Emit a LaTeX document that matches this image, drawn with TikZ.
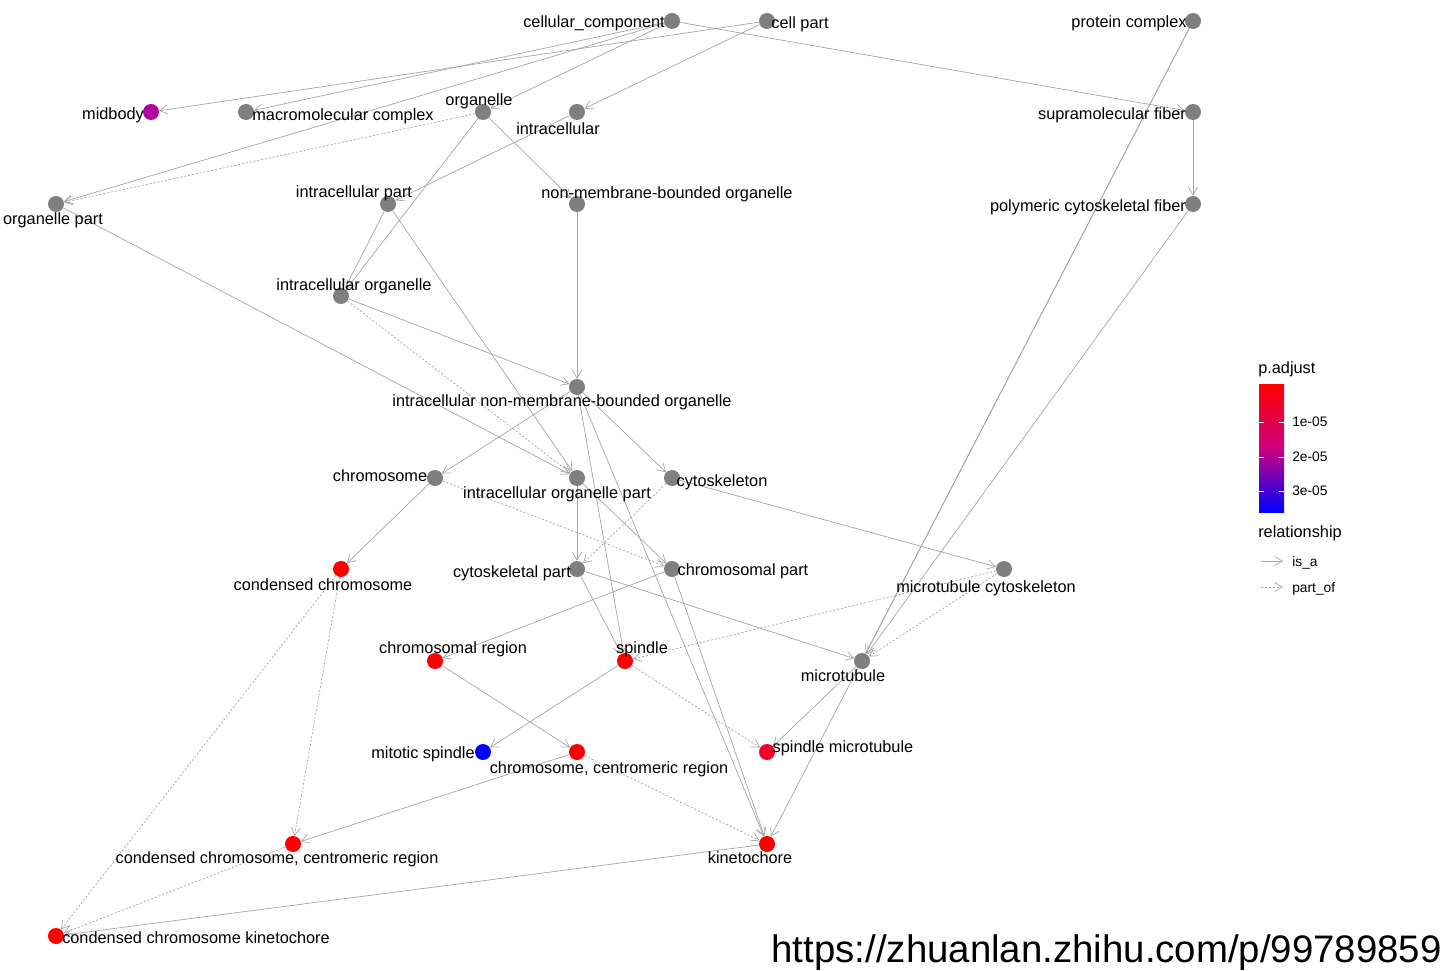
\documentclass[tikz,border=0pt]{standalone}
\usepackage{fontspec}
\setmainfont{Liberation Sans}
\usetikzlibrary{arrows.meta,positioning}
\definecolor{edgegray}{HTML}{A6A6A6}
\definecolor{termgray}{HTML}{7F7F7F}
\definecolor{sigred}{HTML}{FF0000}
\definecolor{midmag}{HTML}{B300A3}
\definecolor{sigblue}{HTML}{0000FF}
\definecolor{spmtred}{HTML}{F2002B}
\pgfdeclarelayer{edges}
\pgfsetlayers{edges,main}

\begin{document}
\begin{tikzpicture}[x=0.025cm,y=-0.025cm,
  term/.style={circle,fill=termgray,minimum size=0.4cm,inner sep=0pt},
  lbl/.style={inner sep=0pt,font=\fontsize{11.6}{13}\selectfont,text height=8.7pt,text depth=0.6pt},
  small/.style={lbl,anchor=west,font=\fontsize{9.8}{11}\selectfont,text height=7.3pt},
  isa/.style={draw=edgegray,line width=0.5pt,-{Straight Barb[length=5.5pt,width=6.5pt]}},
  partof/.style={isa,dash pattern=on 1.5pt off 1.3pt}]
  \useasboundingbox (0,0) rectangle (1451,971);

  % GO terms, top rows
  \node[term] (cc) at (672,21) {};
  \node[lbl] (cc-l) at (594,22) {cellular\_component};
  \node[term] (cellpart) at (767,21) {};
  \node[lbl] (cellpart-l) at (800,23) {cell part};
  \node[term] (protcx) at (1193,21) {};
  \node[lbl] (protcx-l) at (1129,22) {protein complex};
  \node[term,fill=midmag] (midbody) at (151,112) {};
  \node[lbl] (midbody-l) at (113,114) {midbody};
  \node[term] (macro) at (246,112) {};
  \node[lbl] (macro-l) at (343,115) {macromolecular complex};
  \node[term] (organelle) at (483,112) {};
  \node[lbl] (organelle-l) at (479,100) {organelle};
  \node[term] (intra) at (577,112) {};
  \node[lbl] (intra-l) at (558,129) {intracellular};
  \node[term] (supfib) at (1193,112) {};
  \node[lbl] (supfib-l) at (1112,114) {supramolecular fiber};
  \node[term] (orgpart) at (56,204) {};
  \node[lbl] (orgpart-l) at (53,219) {organelle part};
  \node[term] (intrapart) at (388,204) {};
  \node[lbl] (intrapart-l) at (354,192) {intracellular part};
  \node[term] (nmbo) at (577,204) {};
  \node[lbl] (nmbo-l) at (667,193) {non-membrane-bounded organelle};
  \node[term] (polyfib) at (1193,204) {};
  \node[lbl] (polyfib-l) at (1088,206) {polymeric cytoskeletal fiber};
  \node[term] (intraorg) at (341,296) {};
  \node[lbl] (intraorg-l) at (354,285) {intracellular organelle};

  % middle rows
  \node[term] (inmbo) at (577,387) {};
  \node[lbl] (inmbo-l) at (562,401) {intracellular non-membrane-bounded organelle};
  \node[term] (chrom) at (435,478) {};
  \node[lbl] (chrom-l) at (380,476) {chromosome};
  \node[term] (iop) at (577,478) {};
  \node[lbl] (iop-l) at (557,493) {intracellular organelle part};
  \node[term] (cytosk) at (672,478) {};
  \node[lbl] (cytosk-l) at (722,481) {cytoskeleton};
  \node[term,fill=sigred] (condchrom) at (341,569) {};
  \node[lbl] (condchrom-l) at (323,585) {condensed chromosome};
  \node[term] (cytopart) at (577,569) {};
  \node[lbl] (cytopart-l) at (512,572) {cytoskeletal part};
  \node[term] (chrompart) at (672,569) {};
  \node[lbl] (chrompart-l) at (743,570) {chromosomal part};
  \node[term] (mtcyto) at (1004,569) {};
  \node[lbl] (mtcyto-l) at (986,587) {microtubule cytoskeleton};

  % lower rows
  \node[term,fill=sigred] (chromreg) at (435,661) {};
  \node[lbl] (chromreg-l) at (453,648) {chromosomal region};
  \node[term,fill=sigred] (spindle) at (625,661) {};
  \node[lbl] (spindle-l) at (642,648) {spindle};
  \node[term] (mtub) at (862,661) {};
  \node[lbl] (mtub-l) at (843,676) {microtubule};
  \node[term,fill=sigblue] (mitsp) at (483,752) {};
  \node[lbl] (mitsp-l) at (423,753) {mitotic spindle};
  \node[term,fill=sigred] (ccr) at (577,752) {};
  \node[lbl] (ccr-l) at (609,768) {chromosome, centromeric region};
  \node[term,fill=spmtred] (spmt) at (767,752) {};
  \node[lbl] (spmt-l) at (843,747) {spindle microtubule};
  \node[term,fill=sigred] (cccr) at (293,844) {};
  \node[lbl] (cccr-l) at (277,858) {condensed chromosome, centromeric region};
  \node[term,fill=sigred] (kineto) at (767,844) {};
  \node[lbl] (kineto-l) at (750,858) {kinetochore};
  \node[term,fill=sigred] (cck) at (56,936) {};
  \node[lbl] (cck-l) at (196,938) {condensed chromosome kinetochore};

  \begin{pgfonlayer}{edges}
    % is_a
    \draw[isa] (cc) -- (macro);
    \draw[isa] (cc) -- (organelle);
    \draw[isa] (cc) -- (orgpart);
    \draw[isa] (cc) -- (supfib);
    \draw[isa] (cellpart) -- (midbody);
    \draw[isa] (cellpart) -- (intra);
    \draw[isa] (intra) -- (intrapart);
    \draw[isa] (organelle) -- (intraorg);
    \draw[isa] (organelle) -- (nmbo);
    \draw[isa] (intrapart) -- (intraorg);
    \draw[isa] (intrapart) -- (iop);
    \draw[isa] (nmbo) -- (inmbo);
    \draw[isa] (intraorg) -- (inmbo);
    \draw[isa] (orgpart) -- (iop);
    \draw[isa] (inmbo) -- (chrom);
    \draw[isa] (inmbo) -- (cytosk);
    \draw[isa] (inmbo) -- (spindle);
    \draw[isa] (inmbo) -- (kineto);
    \draw[isa] (iop) -- (cytopart);
    \draw[isa] (iop) -- (chrompart);
    \draw[isa] (cytosk) -- (mtcyto);
    \draw[isa] (chrom) -- (condchrom);
    \draw[isa] (cytopart) -- (mtub);
    \draw[isa] (cytopart) -- (spindle);
    \draw[isa] (chrompart) -- (chromreg);
    \draw[isa] (chrompart) -- (kineto);
    \draw[isa] (protcx) -- (mtub);
    \draw[isa] (protcx) -- (kineto);
    \draw[isa] (supfib) -- (polyfib);
    \draw[isa] (polyfib) -- (mtub);
    \draw[isa] (mtub) -- (spmt);
    \draw[isa] (spindle) -- (mitsp);
    \draw[isa] (chromreg) -- (ccr);
    \draw[isa] (ccr) -- (cccr);
    \draw[isa] (kineto) -- (cck);
    % part_of
    \draw[partof] (organelle) -- (orgpart);
    \draw[partof] (intraorg) -- (iop);
    \draw[partof] (chrom) -- (chrompart);
    \draw[partof] (cytosk) -- (cytopart);
    \draw[partof] (mtcyto) -- (spindle);
    \draw[partof] (mtcyto) -- (mtub);
    \draw[partof] (spindle) -- (spmt);
    \draw[partof] (ccr) -- (kineto);
    \draw[partof] (condchrom) -- (cccr);
    \draw[partof] (condchrom) -- (cck);
    \draw[partof] (cccr) -- (cck);
  \end{pgfonlayer}

  % legend: p.adjust
  \node[lbl,anchor=west] (padj) at (1258,368) {p.adjust};
  \shade[top color=sigred,bottom color=sigblue,middle color={rgb,255:red,205;green,0;blue,125}] (1259,384) rectangle (1284,512);
  \foreach \ty/\tl in {422/1e-05,457/2e-05,491/3e-05} {
    \draw[white,line width=0.6pt] (1259,\ty) -- (1264,\ty) (1279,\ty) -- (1284,\ty);
    \node[small] at (1292,\ty) {\tl};
  }
  % legend: relationship
  \node[lbl,anchor=west] (rel) at (1258,532) {relationship};
  \coordinate (isa-a) at (1261,561);
  \coordinate (isa-b) at (1283,561);
  \coordinate (po-a) at (1261,587);
  \coordinate (po-b) at (1283,587);
  \draw[isa] (isa-a) -- (isa-b);
  \draw[partof] (po-a) -- (po-b);
  \node[small] (isa-l) at (1292,562) {is\_a};
  \node[small] (po-l) at (1292,588) {part\_of};

  % source link
  \node[anchor=base east,inner sep=0pt,font=\fontsize{27.3}{30}\selectfont] (url) at (1442,962) {https://zhuanlan.zhihu.com/p/99789859};
\end{tikzpicture}
\end{document}
